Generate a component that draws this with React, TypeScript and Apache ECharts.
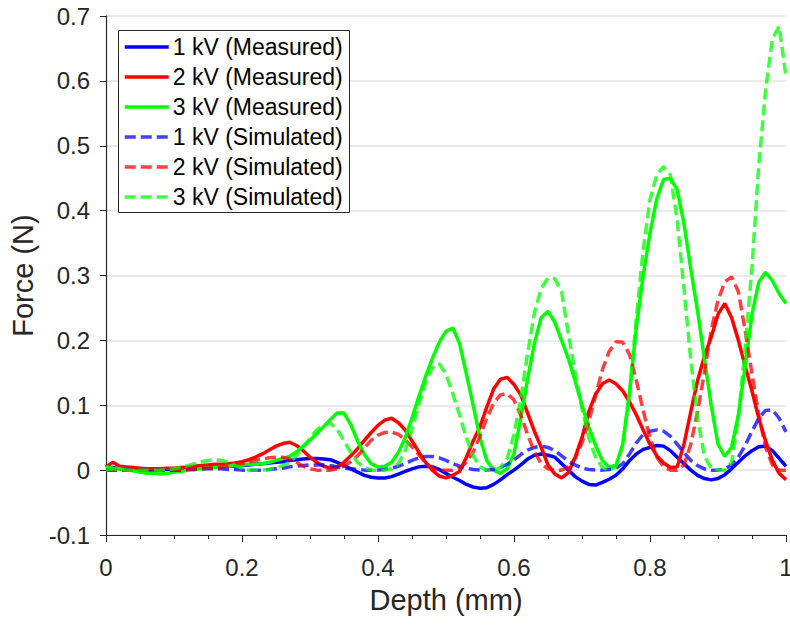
import React, { useEffect, useRef } from "react";
import * as echarts from "echarts";

const depth = [
  0.0, 0.01, 0.02, 0.03, 0.04, 0.05, 0.06, 0.07, 0.08, 0.09,
  0.1, 0.11, 0.12, 0.13, 0.14, 0.15, 0.16, 0.17, 0.18, 0.19,
  0.2, 0.21, 0.22, 0.23, 0.24, 0.25, 0.26, 0.27, 0.28, 0.29,
  0.3, 0.31, 0.32, 0.33, 0.34, 0.35, 0.36, 0.37, 0.38, 0.39,
  0.4, 0.41, 0.42, 0.43, 0.44, 0.45, 0.46, 0.47, 0.48, 0.49,
  0.5, 0.51, 0.52, 0.53, 0.54, 0.55, 0.56, 0.57, 0.58, 0.59,
  0.6, 0.61, 0.62, 0.63, 0.64, 0.65, 0.66, 0.67, 0.68, 0.69,
  0.7, 0.71, 0.72, 0.73, 0.74, 0.75, 0.76, 0.77, 0.78, 0.79,
  0.8, 0.81, 0.82, 0.83, 0.84, 0.85, 0.86, 0.87, 0.88, 0.89,
  0.9, 0.91, 0.92, 0.93, 0.94, 0.95, 0.96, 0.97, 0.98, 0.99,
  1.0,
];

const measured1kV = [
  0.003, 0.004, 0.002, 0.001, 0, 0, 0, 0, 0.001, 0.001,
  0.002, 0.002, 0.003, 0.003, 0.004, 0.004, 0.005, 0.005, 0.006, 0.006,
  0.007, 0.008, 0.009, 0.01, 0.011, 0.012, 0.013, 0.015, 0.016, 0.017,
  0.018, 0.018, 0.017, 0.016, 0.012, 0.007, 0.002, -0.003, -0.008, -0.011,
  -0.012, -0.012, -0.01, -0.006, -0.002, 0.002, 0.005, 0.006, 0.005, 0.001,
  -0.005, -0.011, -0.016, -0.022, -0.026, -0.028, -0.027, -0.022, -0.015, -0.007,
  0.0, 0.008, 0.017, 0.023, 0.025, 0.023, 0.02, 0.01, 0.0, -0.01,
  -0.017, -0.022, -0.023, -0.019, -0.014, -0.008, 0.002, 0.015, 0.025, 0.032,
  0.035, 0.038, 0.037, 0.03, 0.02, 0.01, 0.0, -0.008, -0.013, -0.015,
  -0.013, -0.007, 0.002, 0.012, 0.022, 0.03, 0.036, 0.037, 0.03, 0.018,
  0.006,
];

const measured2kV = [
  0.005, 0.012, 0.006, 0.005, 0.004, 0.003, 0.002, 0.002, 0.002, 0.003,
  0.003, 0.004, 0.005, 0.006, 0.007, 0.008, 0.009, 0.009, 0.01, 0.011,
  0.013, 0.016, 0.02, 0.025, 0.031, 0.037, 0.041, 0.043, 0.038, 0.03,
  0.02, 0.012, 0.006, 0.003, 0.005, 0.012, 0.022, 0.033, 0.046, 0.058,
  0.069, 0.077, 0.08, 0.073, 0.062, 0.045, 0.028, 0.012, 0.0, -0.009,
  -0.012, -0.008, -0.002, 0.02, 0.045, 0.067, 0.097, 0.125, 0.14, 0.143,
  0.132, 0.116, 0.088, 0.06, 0.035, 0.008, -0.006, -0.012, -0.004, 0.02,
  0.05, 0.09, 0.117, 0.133, 0.139, 0.133, 0.122, 0.105, 0.085, 0.062,
  0.04, 0.022, 0.011, 0.004, 0.005, 0.04, 0.09, 0.138, 0.175, 0.205,
  0.24, 0.257, 0.235, 0.2, 0.16, 0.122, 0.08, 0.045, 0.015, -0.005,
  -0.015,
];

const measured3kV = [
  0.005, 0.003, 0.002, 0.0, -0.001, -0.003, -0.005, -0.005, -0.006, -0.005,
  -0.003, -0.002, 0.0, 0.001, 0.002, 0.003, 0.004, 0.005, 0.006, 0.007,
  0.008, 0.009, 0.009, 0.01, 0.012, 0.015, 0.018, 0.021, 0.028, 0.037,
  0.046, 0.056, 0.067, 0.078, 0.088, 0.088, 0.07, 0.045, 0.024, 0.01,
  0.005, 0.006, 0.012, 0.027, 0.05, 0.08, 0.113, 0.144, 0.172, 0.197,
  0.214, 0.219, 0.195, 0.148, 0.1, 0.05, 0.015, 0.0, -0.005, 0.002,
  0.025, 0.08, 0.14, 0.195, 0.235, 0.245, 0.228, 0.2, 0.172, 0.137,
  0.1, 0.066, 0.038, 0.015, 0.004, 0.008, 0.04, 0.12, 0.22, 0.3,
  0.365, 0.418, 0.448, 0.45, 0.432, 0.38, 0.31, 0.245, 0.172, 0.1,
  0.04, 0.021, 0.035, 0.085, 0.16, 0.24, 0.29, 0.305, 0.292, 0.272,
  0.257,
];

const simulated1kV = [
  0, 0, 0, 0, 0, 0, 0, 0, 0, 0,
  0, 0, 0.001, 0.001, 0.002, 0.002, 0.002, 0.002, 0.001, 0.001,
  0, 0, 0, 0, 0.001, 0.002, 0.003, 0.005, 0.006, 0.007,
  0.008, 0.008, 0.008, 0.007, 0.005, 0.003, 0.002, 0.001, 0, 0,
  0, 0.001, 0.003, 0.006, 0.01, 0.015, 0.019, 0.021, 0.021, 0.019,
  0.015, 0.01, 0.006, 0.003, 0.001, 0, 0, 0.001, 0.004, 0.009,
  0.016, 0.024, 0.031, 0.035, 0.037, 0.035, 0.03, 0.022, 0.014, 0.008,
  0.003, 0.001, 0, 0, 0.001, 0.003, 0.01, 0.025, 0.042, 0.055,
  0.06, 0.062, 0.06, 0.052, 0.04, 0.027, 0.015, 0.007, 0.002, 0,
  0, 0.002, 0.008, 0.02, 0.038, 0.06, 0.08, 0.092, 0.093, 0.08,
  0.059,
];

const simulated2kV = [
  0, 0, 0, 0, 0, 0, 0, 0, 0, 0,
  0, 0.001, 0.001, 0.002, 0.002, 0.003, 0.004, 0.005, 0.006, 0.008,
  0.01, 0.012, 0.015, 0.017, 0.019, 0.02, 0.02, 0.017, 0.012, 0.006,
  0.002, 0, 0, 0, 0.002, 0.006, 0.013, 0.022, 0.034, 0.046,
  0.054, 0.058, 0.059, 0.055, 0.047, 0.036, 0.024, 0.011, 0.003, 0,
  0, 0, 0.004, 0.012, 0.028, 0.052, 0.08, 0.103, 0.116, 0.118,
  0.108, 0.085, 0.055, 0.028, 0.01, 0.002, 0, 0, 0.005, 0.018,
  0.042, 0.075, 0.115, 0.155, 0.183, 0.198, 0.197, 0.178, 0.138, 0.092,
  0.05, 0.02, 0.005, 0, 0, 0.008, 0.04, 0.09, 0.15, 0.215,
  0.262, 0.29, 0.298, 0.275, 0.215, 0.148, 0.085, 0.035, 0.008, 0,
  0,
];

const simulated3kV = [
  0.0, 0.002, 0.001, 0.0, 0.0, 0.0, 0.0, 0.0, 0.0, 0.001,
  0.002, 0.004, 0.007, 0.01, 0.013, 0.015, 0.016, 0.015, 0.012, 0.007,
  0.003, 0.0, 0.0, 0.0, 0.001, 0.003, 0.007, 0.012, 0.022, 0.035,
  0.049, 0.062, 0.07, 0.072, 0.063, 0.045, 0.027, 0.012, 0.004, 0.0,
  0.0, 0.0, 0.002, 0.01, 0.03, 0.062, 0.1, 0.135, 0.158, 0.164,
  0.148, 0.118, 0.085, 0.05, 0.022, 0.005, 0.0, 0.0, 0.004, 0.018,
  0.055, 0.11, 0.18, 0.242, 0.28, 0.296, 0.295, 0.275, 0.21, 0.15,
  0.095, 0.05, 0.02, 0.004, 0.0, 0.005, 0.04, 0.12, 0.235, 0.34,
  0.417, 0.455, 0.468, 0.455, 0.385, 0.28, 0.17, 0.08, 0.022, 0.003,
  0.0, 0.0, 0.012, 0.08, 0.19, 0.313, 0.47, 0.585, 0.665, 0.684,
  0.607,
];

const seriesNames = [
  "1 kV (Measured)",
  "2 kV (Measured)",
  "3 kV (Measured)",
  "1 kV (Simulated)",
  "2 kV (Simulated)",
  "3 kV (Simulated)",
];
const seriesValues = [
  measured1kV,
  measured2kV,
  measured3kV,
  simulated1kV,
  simulated2kV,
  simulated3kV,
];
const seriesColors = ["#0000ff", "#ff0000", "#00ff00", "#0000ff", "#ff0000", "#00ff00"];
const seriesDashed = [false, false, false, true, true, true];

const FONT = "'Liberation Sans', Arial, Helvetica, sans-serif";
const AXIS_COLOR = "#262626";

export default function App() {
  const ref = useRef<HTMLDivElement>(null);

  useEffect(() => {
    if (!ref.current) return;
    const chart = echarts.init(ref.current, undefined, { renderer: "svg" });

    const series = seriesNames.map((name, i) => ({
      name,
      type: "line",
      data: depth.map((x, j) => [x, seriesValues[i][j]]),
      symbol: "none",
      showSymbol: false,
      smooth: false,
      clip: true,
      color: seriesColors[i],
      lineStyle: {
        width: 3.5,
        color: seriesColors[i],
        type: seriesDashed[i] ? [11, 5] : "solid",
        opacity: seriesDashed[i] ? 0.75 : 1,
      },
      itemStyle: { color: seriesColors[i] },
      z: seriesDashed[i] ? 3 : 2,
    }));

    chart.setOption({
      animation: false,
      backgroundColor: "#ffffff",
      grid: {
        left: 106,
        right: 4,
        top: 16,
        bottom: 91,
        containLabel: false,
        outerBoundsMode: "none",
      },
      xAxis: {
        type: "value",
        min: 0,
        max: 1,
        interval: 0.2,
        name: "Depth (mm)",
        nameLocation: "middle",
        nameGap: 50,
        nameTextStyle: { fontSize: 29, color: AXIS_COLOR, fontFamily: FONT },
        axisLine: { show: true, onZero: false, lineStyle: { color: AXIS_COLOR, width: 1.2 } },
        axisTick: { show: true, inside: false, length: 7, lineStyle: { color: AXIS_COLOR, width: 1 } },
        minorTick: { show: true, splitNumber: 4, length: 4, lineStyle: { color: AXIS_COLOR, width: 1 } },
        splitLine: { show: false },
        minorSplitLine: { show: false },
        axisLabel: { fontSize: 24, color: AXIS_COLOR, fontFamily: FONT, margin: 20 },
      },
      yAxis: {
        type: "value",
        min: -0.1,
        max: 0.7,
        interval: 0.1,
        name: "Force (N)",
        nameLocation: "middle",
        nameGap: 64,
        nameTextStyle: { fontSize: 29, color: AXIS_COLOR, fontFamily: FONT },
        axisLine: { show: true, onZero: false, lineStyle: { color: AXIS_COLOR, width: 1.2 } },
        axisTick: { show: true, inside: false, length: 6, lineStyle: { color: AXIS_COLOR, width: 1 } },
        splitLine: { show: true, lineStyle: { color: "#e3e3e3", width: 1.5 } },
        axisLabel: { fontSize: 24, color: AXIS_COLOR, fontFamily: FONT, margin: 16 },
      },
      legend: {
        show: true,
        orient: "vertical",
        left: 123,
        top: 35,
        padding: 0,
        itemWidth: 44,
        itemHeight: 14,
        itemGap: 6,
        selectedMode: false,
        data: seriesNames,
        lineStyle: { width: 3.5 },
        itemStyle: { opacity: 0, borderWidth: 0, color: "rgba(0,0,0,0)" },
        textStyle: { fontSize: 23, color: "#000", fontFamily: FONT, lineHeight: 24, padding: [0, 0, 0, -1] },
        z: 10,
      },
      graphic: [
        {
          type: "rect",
          z: 5,
          shape: { x: 118.5, y: 30.5, width: 231, height: 182 },
          style: { fill: "#ffffff", stroke: AXIS_COLOR, lineWidth: 1 },
        },
      ],
      series,
    });

    return () => {
      chart.dispose();
    };
  }, []);

  return (
    <div
      ref={ref}
      style={{ position: "absolute", left: 0, top: 0, width: 790, height: 626 }}
    />
  );
}
